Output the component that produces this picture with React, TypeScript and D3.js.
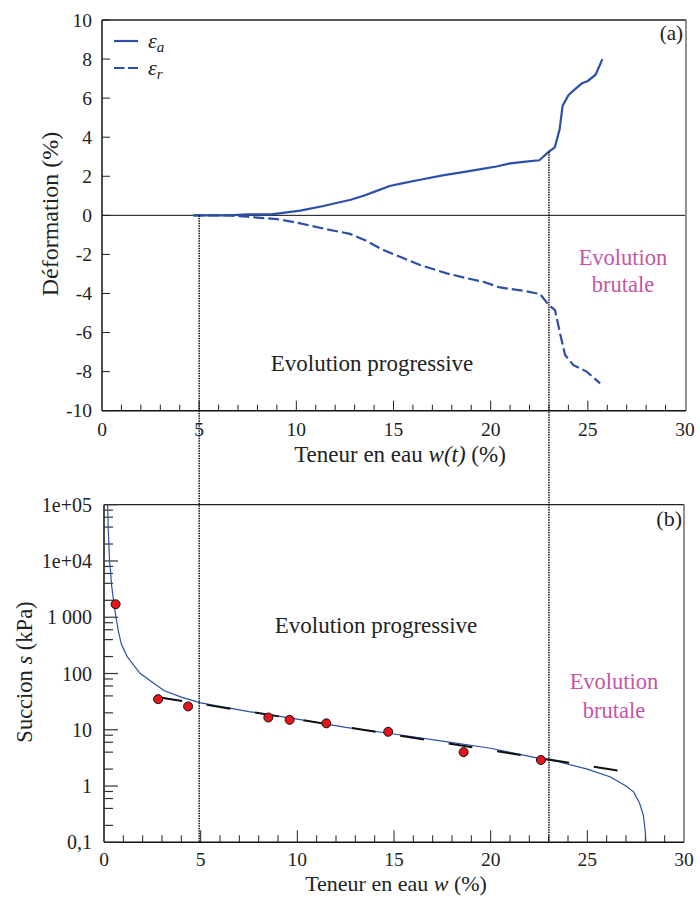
import React from "react";
import * as d3 from "d3";

// ---- Panel (a): deformation vs water content ----
const epsAX = [4.7, 5.5, 6.5, 7.5, 8.7, 9.5, 10.2, 11.4, 12, 12.8, 13.5, 14, 14.8, 15.5, 16.5, 17.6, 18.5, 19.5, 20.3, 21, 21.8, 22.5, 23.0, 23.3, 23.55, 23.7, 24.0, 24.3, 24.7, 25.0, 25.4, 25.75];
const epsAY = [0, 0, 0, 0.05, 0.05, 0.15, 0.24, 0.48, 0.62, 0.8, 1.02, 1.2, 1.5, 1.65, 1.85, 2.06, 2.2, 2.37, 2.5, 2.66, 2.75, 2.82, 3.26, 3.48, 4.4, 5.6, 6.15, 6.42, 6.76, 6.88, 7.2, 8.0];
const epsRX = [4.7, 5.5, 6.5, 7.45, 9.0, 10.2, 11.5, 12.76, 13.6, 14.48, 15.4, 16.37, 17.74, 18.7, 19.62, 20.48, 21.68, 22.54, 22.99, 23.31, 23.57, 23.83, 24.26, 24.94, 25.63];
const epsRY = [0, 0, 0, -0.07, -0.19, -0.41, -0.7, -0.95, -1.3, -1.78, -2.15, -2.54, -2.97, -3.2, -3.4, -3.69, -3.86, -4.03, -4.59, -4.85, -6.04, -7.15, -7.67, -8.0, -8.6];
const xTicksLabels = [0, 5, 10, 15, 20, 25, 30];
const yTopTicks = [-10, -8, -6, -4, -2, 0, 2, 4, 6, 8, 10];
const boundaries = [5, 23];
const boundaryStartEps = [0, 3.26];

// ---- Panel (b): suction vs water content ----
const curveW = [0.19, 0.22, 0.29, 0.4, 0.52, 0.62, 0.75, 0.9, 1.2, 1.86, 2.5, 3.1, 4.0, 5.0, 7.5, 10, 12.5, 15, 17.5, 20, 22.5, 23.5, 25, 26.2, 27.0, 27.4, 27.7, 27.9, 28.0, 28.03];
const curveS = [100000, 35000, 10000, 3500, 1700, 1000, 550, 330, 200, 101, 70, 50, 38, 30, 21, 15.5, 11, 8.4, 6.3, 4.7, 3.1, 2.7, 2.0, 1.45, 1.0, 0.78, 0.5, 0.3, 0.15, 0.1];
const pointsW = [0.6, 2.8, 4.35, 8.5, 9.6, 11.5, 14.7, 18.6, 22.6];
const pointsS = [1700, 35, 26, 16.5, 15, 13, 9.2, 4.0, 2.9];
const fitW = [2.81, 26.6];
const fitS = [38, 1.88];
const yBotTicks = [0.1, 1, 10, 100, 1000, 10000, 100000];
const yBotLabels = ["0,1", "1", "10", "100", "1 000", "1e+04", "1e+05"];

const BLUE = "#2c50a6";
const MAGENTA = "#c455a5";
const FONT = "'Liberation Serif', 'DejaVu Serif', 'Times New Roman', Times, serif";

export default function App() {
  const xTop = d3.scaleLinear().domain([0, 30]).range([102, 685]);
  const yTop = d3.scaleLinear().domain([-10, 10]).range([410.7, 20]);
  const xBot = d3.scaleLinear().domain([0, 30]).range([104, 684]);
  const yBot = d3.scaleLog().domain([0.1, 1e5]).range([842.3, 504.7]);

  const lineTop = d3.line<[number, number]>().x((d) => xTop(d[0])).y((d) => yTop(d[1]));
  const lineBot = d3.line<[number, number]>().x((d) => xBot(d[0])).y((d) => yBot(d[1]));

  const epsA = epsAX.map((x, i) => [x, epsAY[i]] as [number, number]);
  const epsR = epsRX.map((x, i) => [x, epsRY[i]] as [number, number]);
  const curve = curveW.map((x, i) => [x, curveS[i]] as [number, number]);
  const fit = fitW.map((x, i) => [x, fitS[i]] as [number, number]);

  const minorX = d3.range(1, 30);
  const [tx0, tx1] = xTop.range();
  const [ty0, ty1] = yTop.range();
  const [bx0, bx1] = xBot.range();
  const [by0, by1] = yBot.range();

  const logMinor: number[] = [];
  for (let e = -1; e < 5; e++) {
    [2, 4, 6, 8].forEach((m) => logMinor.push(m * Math.pow(10, e)));
  }

  const ts = { fontFamily: FONT };

  return (
    <svg width={700} height={900} style={{ position: "absolute", left: 0, top: 0, background: "#fff", fontFamily: FONT }}>
      <rect x={0} y={0} width={700} height={900} fill="#fff" />

      {/* ===== Panel (a) ===== */}
      <line x1={tx0} x2={tx1 + 1} y1={ty1} y2={ty1} stroke="#222" strokeWidth={1.3} />
      <line x1={tx1 + 1} x2={tx1 + 1} y1={ty1} y2={ty0} stroke="#555" strokeWidth={1.3} />
      <line x1={tx0} x2={tx0} y1={ty1} y2={ty0} stroke="#111" strokeWidth={1.5} />
      <line x1={tx0} x2={tx1 + 1} y1={ty0} y2={ty0} stroke="#111" strokeWidth={1.5} />
      <line x1={tx0} x2={tx1} y1={yTop(0)} y2={yTop(0)} stroke="#111" strokeWidth={1} />

      {minorX.map((v) => (
        <line key={"tmx" + v} x1={xTop(v)} x2={xTop(v)} y1={ty0} y2={ty0 - (v % 5 === 0 ? 10 : 6)} stroke="#222" strokeWidth={1} />
      ))}
      {xTicksLabels.map((v) => (
        <text key={"tlx" + v} style={ts} x={xTop(v)} y={436} fontSize={19.5} textAnchor="middle" fill="#222">{v}</text>
      ))}
      {yTopTicks.map((v) => (
        <g key={"tly" + v}>
          <line x1={tx0} x2={tx0 + 8} y1={yTop(v)} y2={yTop(v)} stroke="#222" strokeWidth={1} />
          <text style={ts} x={92} y={yTop(v)} fontSize={19.5} textAnchor="end" dominantBaseline="central" fill="#222">{v}</text>
        </g>
      ))}

      <path d={lineTop(epsA) || ""} fill="none" stroke={BLUE} strokeWidth={2.2} />
      <path d={lineTop(epsR) || ""} fill="none" stroke={BLUE} strokeWidth={2.2} strokeDasharray="11,4" />

      {/* legend */}
      <line x1={114} x2={138} y1={41} y2={41} stroke={BLUE} strokeWidth={2.2} />
      <text style={ts} x={148} y={48} fontSize={22} fontStyle="italic" fill="#222">ε<tspan fontSize={15} dy={4}>a</tspan></text>
      <line x1={114} x2={138} y1={68} y2={68} stroke={BLUE} strokeWidth={2.2} strokeDasharray="10.5,3.5" />
      <text style={ts} x={148} y={75} fontSize={22} fontStyle="italic" fill="#222">ε<tspan fontSize={15} dy={4}>r</tspan></text>

      <text style={ts} x={683} y={40} fontSize={21} textAnchor="end" fill="#222">(a)</text>
      <text style={ts} x={372} y={371} fontSize={23} textAnchor="middle" fill="#222">Evolution progressive</text>
      <text style={ts} x={623} y={265} fontSize={22.5} textAnchor="middle" fill={MAGENTA}>Evolution</text>
      <text style={ts} x={623} y={292} fontSize={22.5} textAnchor="middle" fill={MAGENTA}>brutale</text>

      <text style={ts} transform={`translate(58,214) rotate(-90)`} fontSize={24} textAnchor="middle" fill="#222">Déformation (%)</text>
      <text style={ts} x={400} y={462} fontSize={23} textAnchor="middle" fill="#222">
        Teneur en eau <tspan fontStyle="italic">w(t)</tspan> (%)
      </text>

      {/* ===== Panel (b) ===== */}
      <line x1={bx0} x2={bx1} y1={by1} y2={by1} stroke="#222" strokeWidth={1.3} />
      <line x1={bx1} x2={bx1} y1={by1} y2={by0} stroke="#555" strokeWidth={1.3} />
      <line x1={bx0} x2={bx0} y1={by1} y2={by0} stroke="#111" strokeWidth={1.5} />
      <line x1={bx0} x2={bx1} y1={by0} y2={by0} stroke="#111" strokeWidth={1.5} />

      {minorX.map((v) => (
        <line key={"bmx" + v} x1={xBot(v)} x2={xBot(v)} y1={by0} y2={by0 - (v % 5 === 0 ? 12 : 7)} stroke="#222" strokeWidth={1} />
      ))}
      {xTicksLabels.map((v) => (
        <text key={"blx" + v} style={ts} x={xBot(v)} y={866} fontSize={19.5} textAnchor="middle" fill="#222">{v}</text>
      ))}
      {yBotTicks.map((v, i) => (
        <g key={"bly" + v}>
          <line x1={bx0} x2={bx0 + 14} y1={yBot(v)} y2={yBot(v)} stroke="#333" strokeWidth={1.2} />
          <text style={ts} x={92} y={yBot(v)} fontSize={20} textAnchor="end" dominantBaseline="central" fill="#222">{yBotLabels[i]}</text>
        </g>
      ))}
      {logMinor.map((v) => (
        <line key={"blm" + v} x1={bx0} x2={bx0 + 9} y1={yBot(v)} y2={yBot(v)} stroke="#333" strokeWidth={1.2} />
      ))}

      <path d={lineBot(curve) || ""} fill="none" stroke={BLUE} strokeWidth={1.2} />
      <path d={lineBot(fit) || ""} fill="none" stroke="#111" strokeWidth={2} strokeDasharray="24,25" />
      {pointsW.map((w, i) => (
        <circle key={"pt" + i} cx={xBot(w)} cy={yBot(pointsS[i])} r={4.5} fill="#e8141c" stroke="#111" strokeWidth={1} />
      ))}

      <text style={ts} x={682} y={526} fontSize={22} textAnchor="end" fill="#222">(b)</text>
      <text style={ts} x={376} y={633} fontSize={23} textAnchor="middle" fill="#222">Evolution progressive</text>
      <text style={ts} x={614} y={689} fontSize={22.5} textAnchor="middle" fill={MAGENTA}>Evolution</text>
      <text style={ts} x={614} y={718} fontSize={22.5} textAnchor="middle" fill={MAGENTA}>brutale</text>

      <text style={ts} transform={`translate(32,672) rotate(-90)`} fontSize={22.5} textAnchor="middle" fill="#222">
        Succion <tspan fontStyle="italic">s</tspan> (kPa)
      </text>
      <text style={ts} x={396} y={891} fontSize={22} textAnchor="middle" fill="#222">
        Teneur en eau <tspan fontStyle="italic">w</tspan> (%)
      </text>

      {boundaries.map((b, i) => (
        <line key={"bd" + b} x1={xTop(b)} x2={xTop(b)} y1={yTop(boundaryStartEps[i])} y2={by0} stroke="#111" strokeWidth={1.5} strokeDasharray="1.5,1" />
      ))}
    </svg>
  );
}
